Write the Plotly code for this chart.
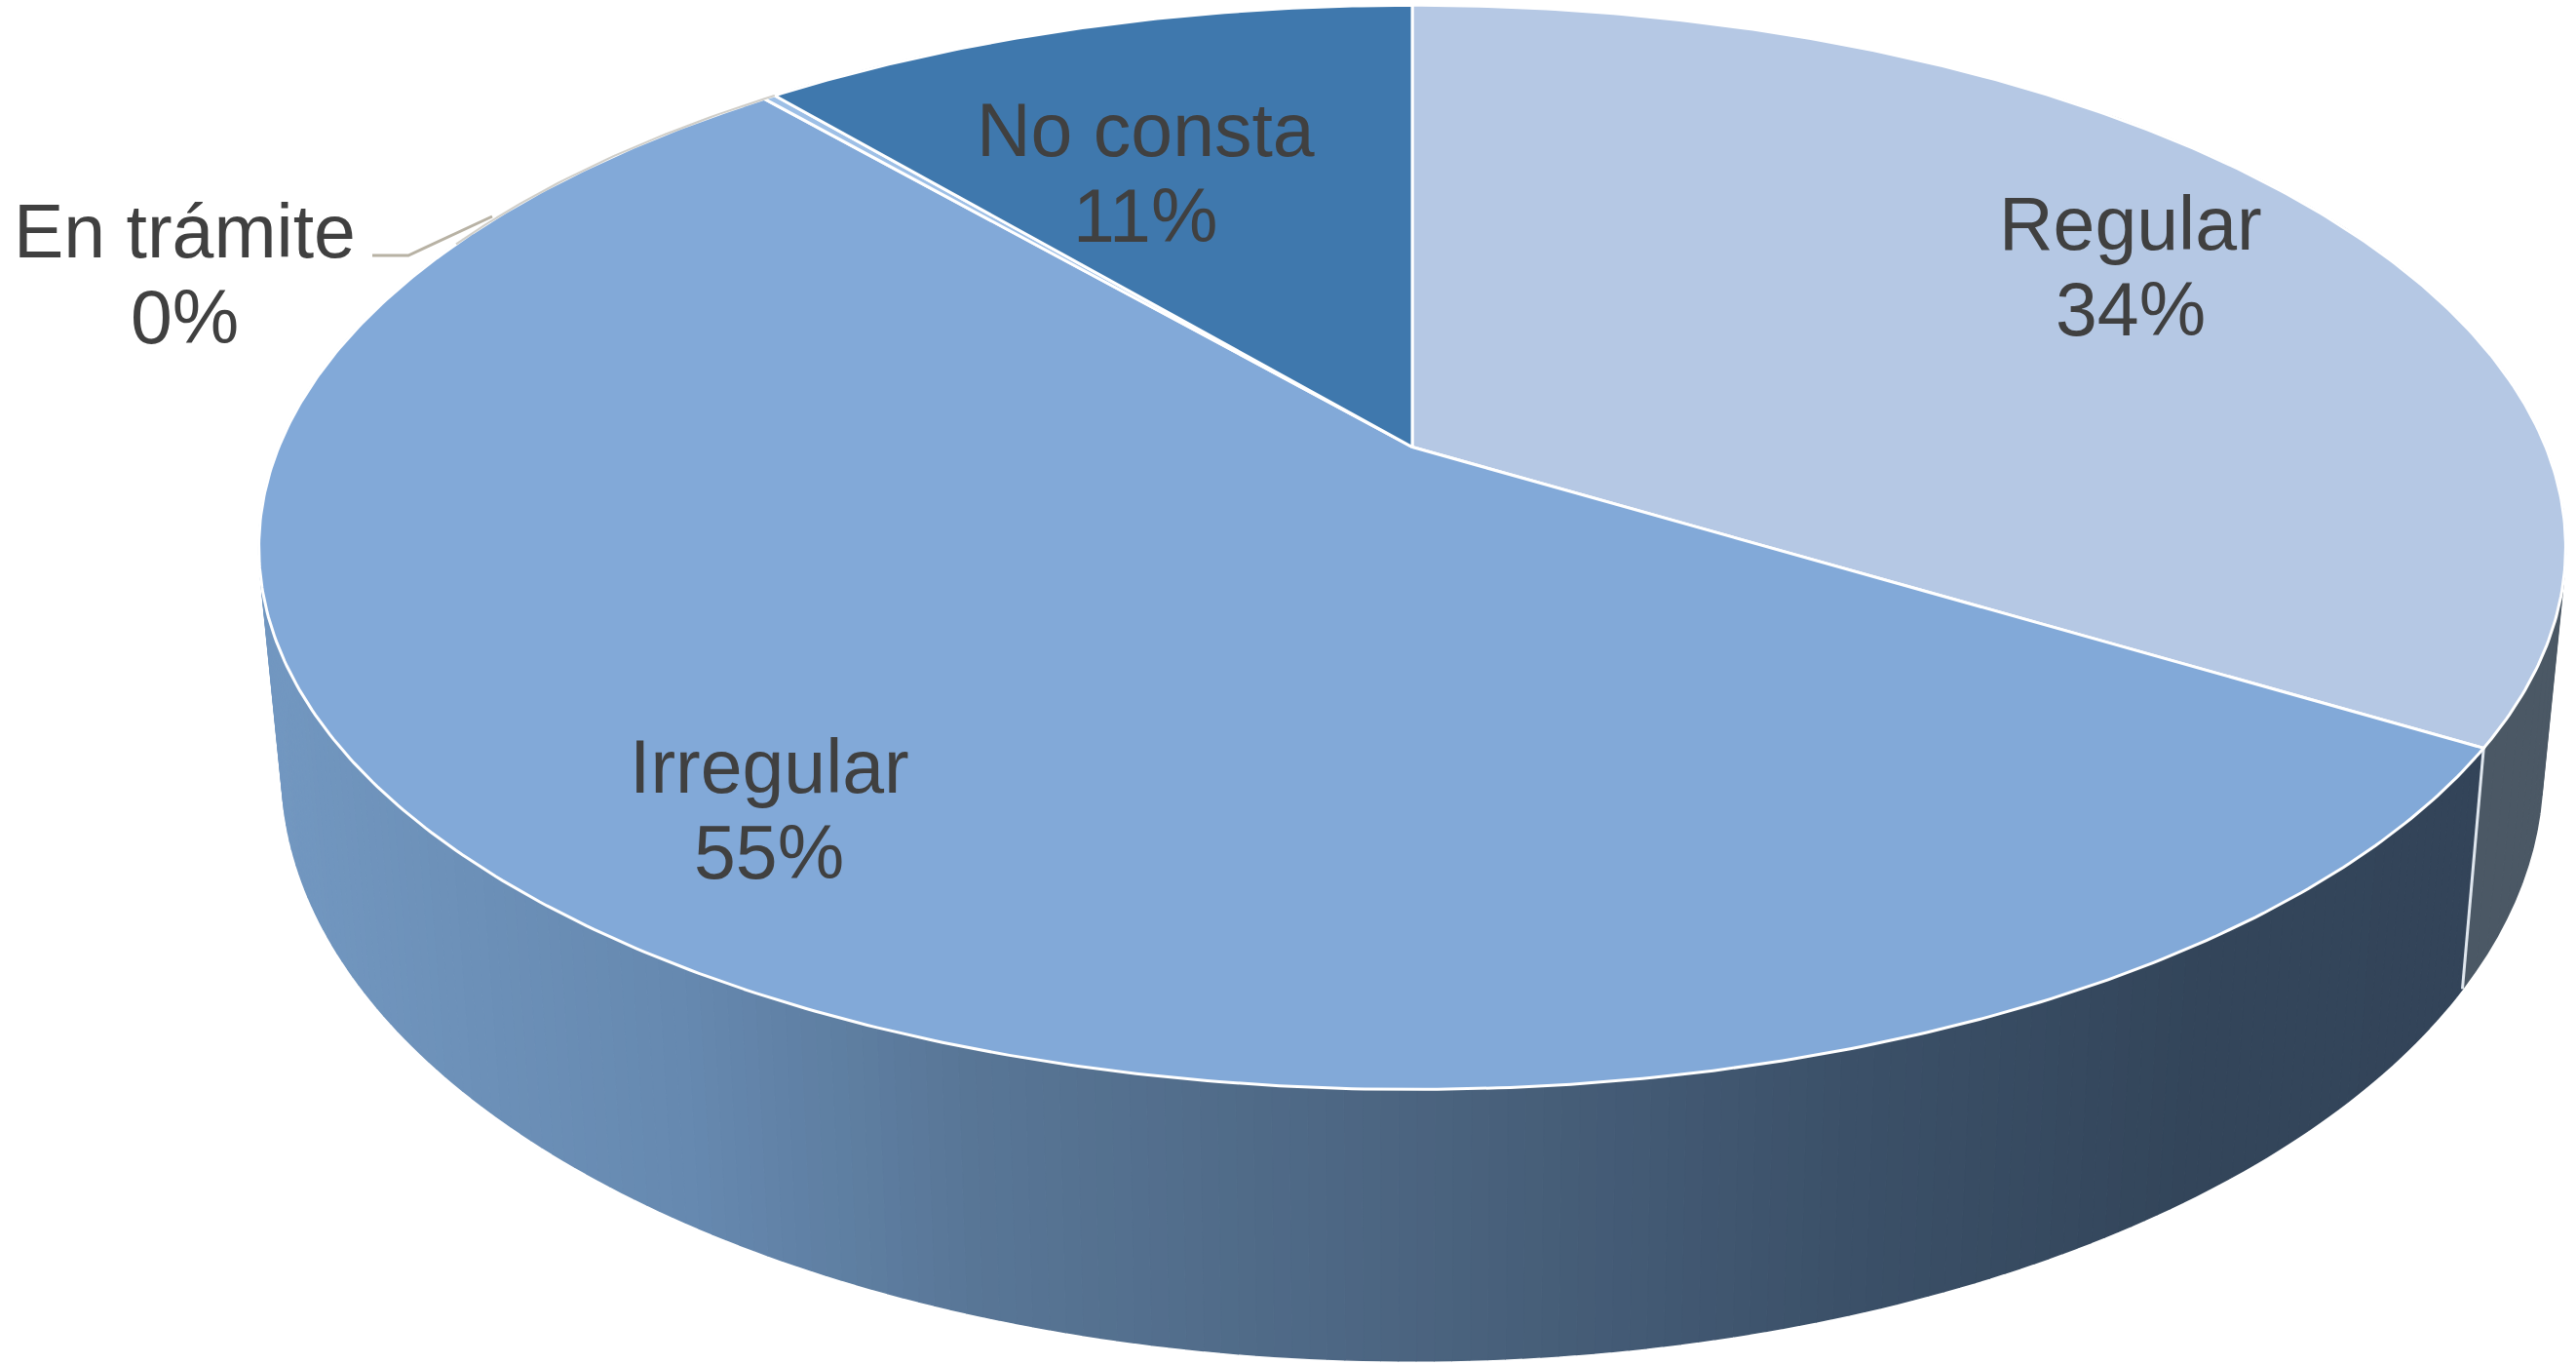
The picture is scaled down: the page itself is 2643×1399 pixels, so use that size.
import numpy as np
import plotly.graph_objects as go

categories = ["Regular", "Irregular", "En trámite", "No consta"]
values = [33.7, 55.0, 0.2, 11.1]
percent_labels = ["34%", "55%", "0%", "11%"]
top_colors = ["#b5c8e4", "#82a9d8", "#9dbfe6", "#3f78ad"]
label_centers_x = [2186, 789, 189, 1175]
label_baselines_y = [252, 809, 260, 156]

W, H = 2643, 1399
FONT = 77
LINE = 88
CX = 1449
K = 0.185
TOP = dict(a=1163.0, b=537.0, cy=458.5)
BOTTOM = dict(a=1140.0, b=585.0, cy=678.0)


def project(theta_deg, plane):
    t = np.radians(theta_deg)
    u, v = np.sin(t), np.cos(t)
    d = 1 + K * v
    return CX + plane["a"] * u / d, plane["cy"] - plane["b"] * v / d


def lerp_colour(x):
    xs = [280, 700, 1000, 1450, 1900, 2250, 2600]
    rgb = np.array([[0x72, 0x97, 0xc0], [0x66, 0x89, 0xb0], [0x58, 0x76, 0x96],
                    [0x4b, 0x64, 0x80], [0x3b, 0x50, 0x68], [0x33, 0x45, 0x5a], [0x33, 0x44, 0x59]])
    c = [int(round(np.interp(x, xs, rgb[:, i]))) for i in range(3)]
    return f"rgb({c[0]},{c[1]},{c[2]})"


def wall_quad(a0, a1, col):
    xa, ya = project(np.array([a0, a1]), TOP)
    xc, yc = project(np.array([a0, a1]), BOTTOM)
    fig.add_trace(go.Scatter(x=np.r_[xa, xc[::-1]], y=np.r_[ya, yc[::-1]], fill="toself",
                             fillcolor=col, mode="lines", line=dict(color=col, width=1.5),
                             hoverinfo="skip", showlegend=False))


fig = go.Figure()
edges = np.concatenate([[0], np.cumsum(values)]) / sum(values) * 360

# Regular wall
steps = np.linspace(40, edges[1], 50)
for a0, a1 in zip(steps[:-1], steps[1:]):
    wall_quad(a0, a1, "#4b5865")

# Irregular wall, shaded left to right
steps = np.arange(edges[1], 330, 0.75)
for a0, a1 in zip(steps[:-1], steps[1:]):
    xa, _ = project(np.array([a0, a1]), TOP)
    xc, _ = project(np.array([a0, a1]), BOTTOM)
    wall_quad(a0, a1, lerp_colour((xa.mean() + xc.mean()) / 2))

# White seam on the wall at the Regular / Irregular border
sx, sy = project(np.array([edges[1], edges[1]]), TOP)
bx, by = project(np.array([edges[1], edges[1]]), BOTTOM)
fig.add_trace(go.Scatter(x=[sx[0], bx[0]], y=[sy[0], by[0]], mode="lines",
                         line=dict(color="#dfe6ee", width=3), hoverinfo="skip", showlegend=False))

# Top faces
for i, name in enumerate(categories):
    th = np.linspace(edges[i], edges[i + 1], max(3, int((edges[i + 1] - edges[i]) * 2)))
    x, y = project(th, TOP)
    fig.add_trace(go.Scatter(x=np.r_[CX, x, CX], y=np.r_[TOP["cy"], y, TOP["cy"]], fill="toself",
                             fillcolor=top_colors[i], mode="lines", line=dict(color="#ffffff", width=3),
                             name=name, hoverinfo="skip", showlegend=False))

# Leader line and the grey tint along the rim of the small slice
mid = (edges[2] + edges[3]) / 2
lx, ly = project(np.linspace(mid - 25, edges[3], 40), TOP)
fig.add_trace(go.Scatter(x=lx, y=ly, mode="lines", line=dict(color="rgba(170,165,155,0.55)", width=2),
                         hoverinfo="skip", showlegend=False))
fig.add_trace(go.Scatter(x=[382, 419, 505], y=[262, 262, 222], mode="lines",
                         line=dict(color="#b8b2a4", width=3), hoverinfo="skip", showlegend=False))

for name, pct, x, y in zip(categories, percent_labels, label_centers_x, label_baselines_y):
    for text, base in ((name, y), (pct, y + LINE)):
        fig.add_annotation(x=x, y=base - 0.30 * FONT, text=text, showarrow=False, xanchor="center",
                           yanchor="middle", font=dict(family="Liberation Sans", size=FONT, color="#404040"))

fig.update_layout(width=W, height=H, margin=dict(l=0, r=0, t=0, b=0), paper_bgcolor="white",
                  plot_bgcolor="white", showlegend=False,
                  xaxis=dict(range=[0, W], visible=False, fixedrange=True),
                  yaxis=dict(range=[H, 0], visible=False, fixedrange=True))
fig.write_html("out.html", config=dict(displayModeBar=False),
               post_script="document.body.style.margin='0';document.body.style.overflow='hidden';")
